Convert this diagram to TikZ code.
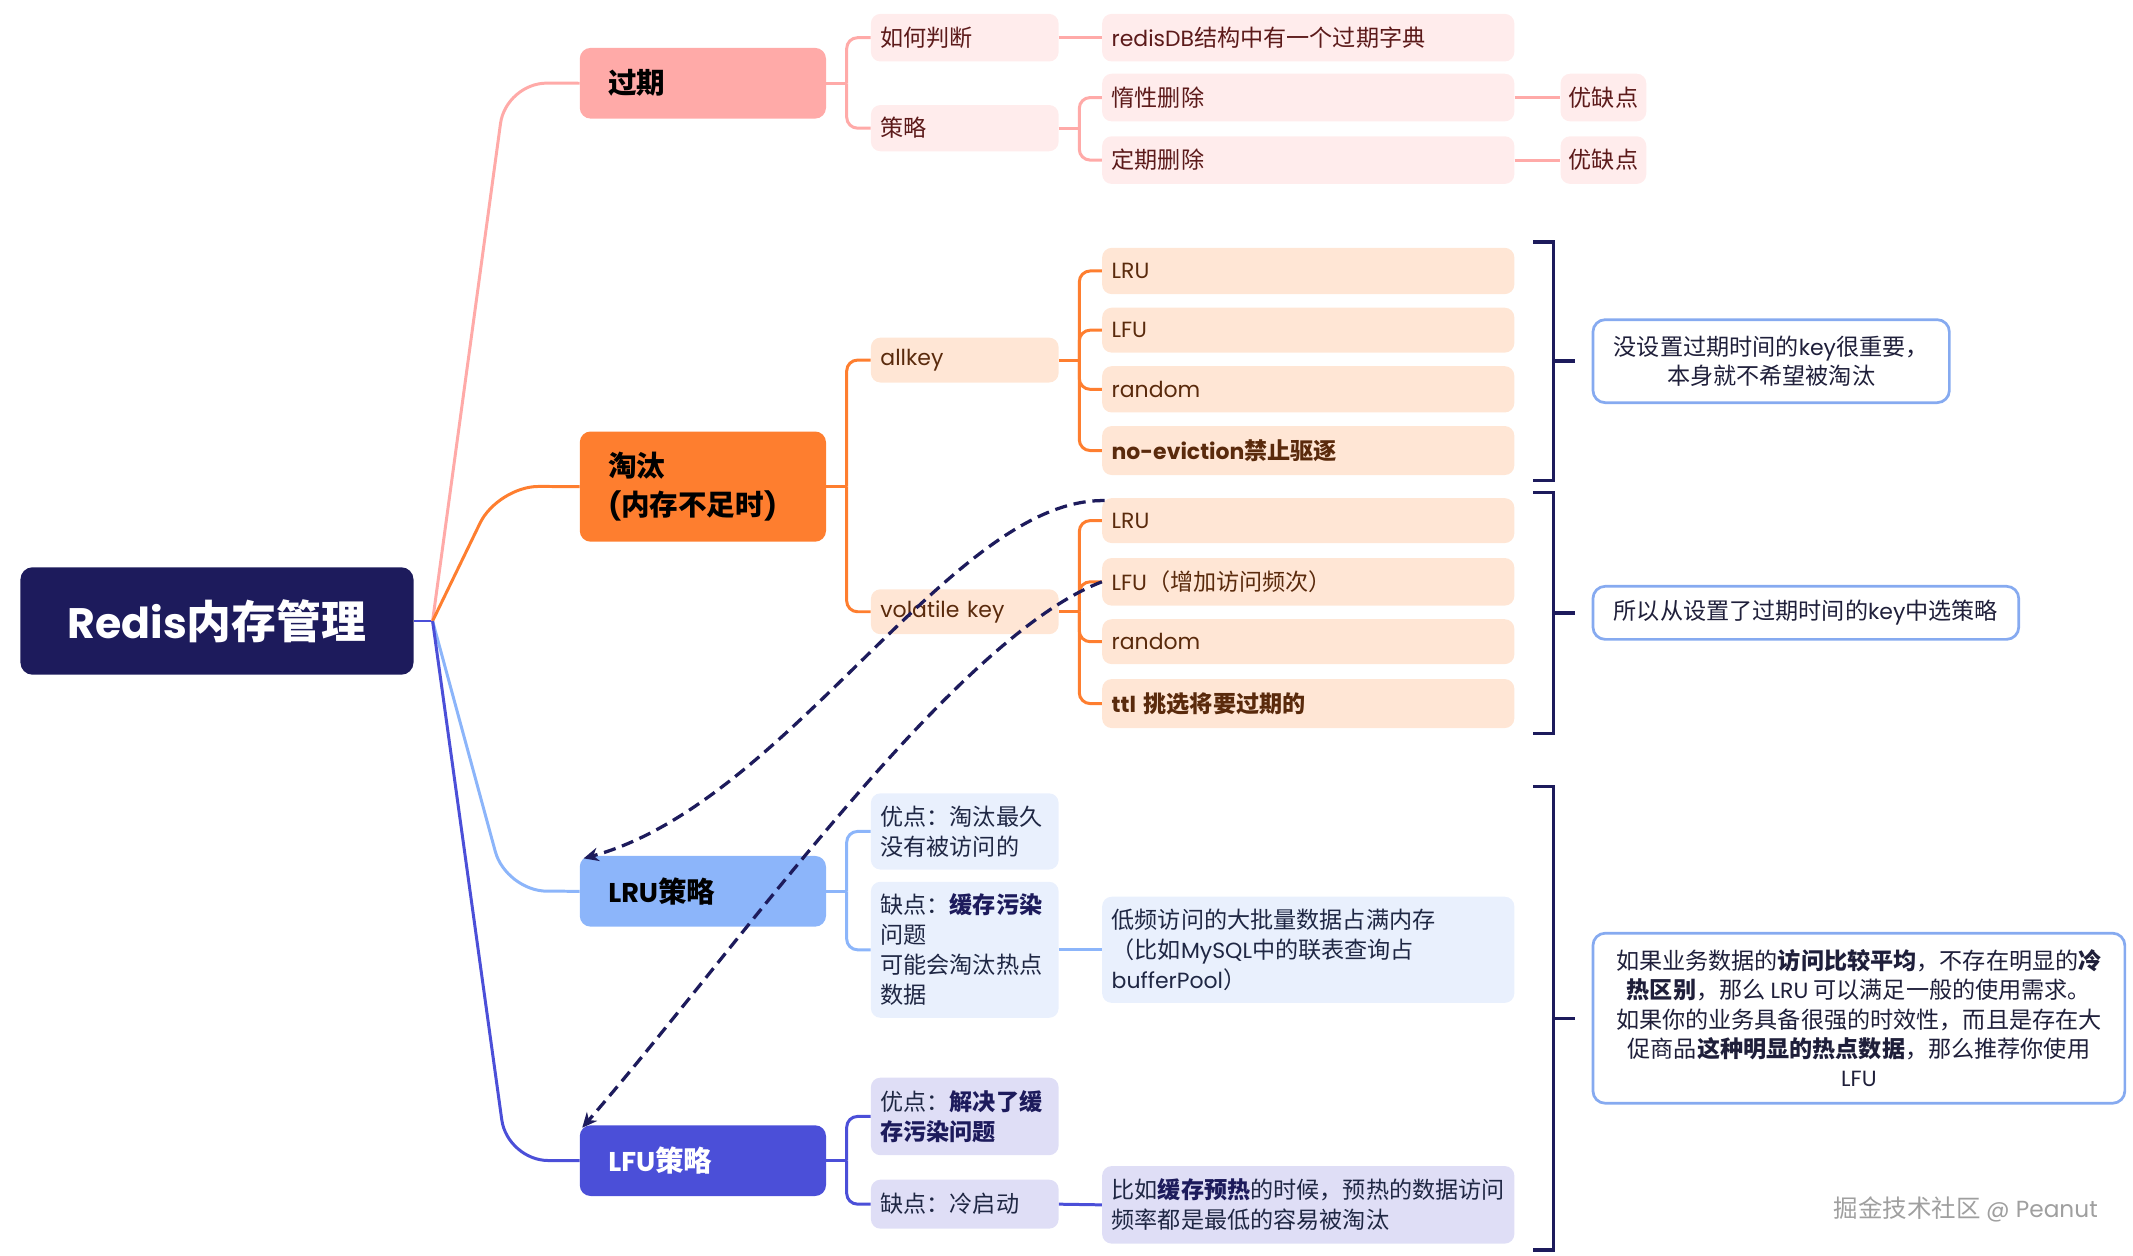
\documentclass[tikz,border=0pt]{standalone}
\usepackage{fontspec}
\setmainfont{Noto Sans CJK SC}
\newfontfamily\pop{Poppins}[Scale=0.95]
\usetikzlibrary{arrows.meta,calc}
\definecolor{navy}{HTML}{1D1B5C}
\definecolor{pinkM}{HTML}{FFAAA8}
\definecolor{pinkL}{HTML}{FFECEC}
\definecolor{pinkT}{HTML}{5C1A1A}
\definecolor{oraM}{HTML}{FE7E2F}
\definecolor{oraL}{HTML}{FFE6D5}
\definecolor{oraT}{HTML}{5A2A0C}
\definecolor{lbM}{HTML}{8CB5FA}
\definecolor{lbL}{HTML}{E9F0FD}
\definecolor{dbM}{HTML}{4B4FD8}
\definecolor{dbL}{HTML}{DFDEF6}
\definecolor{bluT}{HTML}{1F2744}
\definecolor{noteB}{HTML}{86AAF0}
\definecolor{noteT}{HTML}{1F1F3A}
\newcommand\lat[1]{{\pop #1}}
\begin{document}
\begin{tikzpicture}[x=1pt,y=-1pt,
  base/.style={rounded corners=7pt, inner xsep=7pt, inner ysep=2pt, anchor=north west,
    font=\fontsize{17}{22}\selectfont, align=left},
  lvtwo/.style={base, text width=124pt},
  lvthree/.style={base, text width=289pt},
  mainn/.style={rounded corners=8pt, anchor=north west, text width=139pt, inner xsep=21pt,
    align=left, font=\bfseries\fontsize{21}{28}\selectfont},
  note/.style={draw=noteB, line width=2pt, fill=white, rounded corners=9pt, align=center,
    font=\fontsize{17}{21.5}\selectfont, text=noteT, inner sep=2pt},
  conn/.style={line width=2.2pt, draw=#1},
  br/.style={line width=2.2pt, draw=#1, rounded corners=8pt},
  bracket/.style={line width=2.5pt, draw=navy},
  dasharrow/.style={line width=2.4pt, draw=navy, dash pattern=on 9pt off 5pt,
    -{Stealth[length=11pt,width=10pt]}}
]
\useasboundingbox (0,0) rectangle (1568,923.3);

% root
\node[fill=navy, rounded corners=9pt, minimum width=289pt, minimum height=79pt, text=white,
  font=\bfseries\fontsize{33}{36}\selectfont] (root) at (159.5,456.5) {\lat{Redis}内存管理};

% main nodes
\node[mainn, fill=pinkM, minimum height=52pt] (gq) at (426,35) {过期};
\node[mainn, fill=oraM, minimum height=81pt] (tt) at (426,317) {淘汰\\\lat{(}内存不足时\lat{)}};
\node[mainn, fill=lbM, minimum height=52pt] (lru) at (426,629) {\lat{LRU}策略};
\node[mainn, fill=dbM, minimum height=52pt, text=white] (lfu) at (426,827) {\lat{LFU}策略};

% level two
\node[lvtwo, fill=pinkL, text=pinkT, minimum height=35pt] (pd) at (640,10) {如何判断};
\node[lvtwo, fill=pinkL, text=pinkT, minimum height=34pt] (cl) at (640,77) {策略};
\node[lvtwo, fill=oraL, text=oraT, minimum height=33pt] (ak) at (640,248) {\lat{allkey}};
\node[lvtwo, fill=oraL, text=oraT, minimum height=33pt] (vk) at (640,433) {\lat{volatile key}};
\node[lvtwo, fill=lbL, text=bluT, minimum height=56pt] (ru1) at (640,583) {优点：淘汰最久\\没有被访问的};
\node[lvtwo, fill=lbL, text=bluT, minimum height=100pt] (ru2) at (640,648)
  {缺点：\textcolor{navy}{\bfseries 缓存污染}\\问题\\可能会淘汰热点\\数据};
\node[lvtwo, fill=dbL, text=bluT, minimum height=57pt] (fu1) at (640,792)
  {优点：\textcolor{navy}{\bfseries 解决了缓}\\\textcolor{navy}{\bfseries 存污染问题}};
\node[lvtwo, fill=dbL, text=bluT, minimum height=36pt] (fu2) at (640,867) {缺点：冷启动};

% level three
\node[lvthree, fill=pinkL, text=pinkT, minimum height=35pt] (rd) at (810,10) {\lat{redisDB}结构中有一个过期字典};
\node[lvthree, fill=pinkL, text=pinkT, minimum height=35pt] (dx) at (810,54) {惰性删除};
\node[lvthree, fill=pinkL, text=pinkT, minimum height=35pt] (dq) at (810,100) {定期删除};
\node[base, fill=pinkL, text=pinkT, minimum height=35pt, minimum width=63pt, inner xsep=5pt, align=center] (yq1) at (1147,54) {优缺点};
\node[base, fill=pinkL, text=pinkT, minimum height=35pt, minimum width=63pt, inner xsep=5pt, align=center] (yq2) at (1147,100) {优缺点};

\node[lvthree, fill=oraL, text=oraT, minimum height=34pt] (a1) at (810,182) {\lat{LRU}};
\node[lvthree, fill=oraL, text=oraT, minimum height=33pt] (a2) at (810,226) {\lat{LFU}};
\node[lvthree, fill=oraL, text=oraT, minimum height=34pt] (a3) at (810,269) {\lat{random}};
\node[lvthree, fill=oraL, text=oraT, minimum height=36pt, font=\bfseries\fontsize{17}{22}\selectfont] (a4) at (810,313) {\lat{no-eviction}禁止驱逐};
\node[lvthree, fill=oraL, text=oraT, minimum height=33pt] (v1) at (810,366) {\lat{LRU}};
\node[lvthree, fill=oraL, text=oraT, minimum height=35pt] (v2) at (810,410) {\lat{LFU}（增加访问频次）};
\node[lvthree, fill=oraL, text=oraT, minimum height=33pt] (v3) at (810,455) {\lat{random}};
\node[lvthree, fill=oraL, text=oraT, minimum height=36pt, font=\bfseries\fontsize{17}{22}\selectfont] (v4) at (810,499) {\lat{ttl} 挑选将要过期的};

\node[lvthree, fill=lbL, text=bluT, minimum height=78pt] (lp) at (810,659)
  {低频访问的大批量数据占满内存\\（比如\lat{MySQL}中的联表查询占\\\lat{bufferPool}）};
\node[lvthree, fill=dbL, text=bluT, minimum height=57pt] (yr) at (810,857)
  {比如\textcolor{navy}{\bfseries 缓存预热}的时候，预热的数据访问\\频率都是最低的容易被淘汰};

% notes
\node[note, minimum width=262pt, minimum height=61pt] (n1) at (1302,265.5)
  {没设置过期时间的\lat{key}很重要，\\本身就不希望被淘汰};
\node[note, minimum width=313pt, minimum height=39pt] (n2) at (1327.5,450.5)
  {所以从设置了过期时间的\lat{key}中选策略};
\node[note, minimum width=391pt, minimum height=125pt] (n3) at (1366.5,748.5)
  {如果业务数据的\textbf{访问比较平均}，不存在明显的\textbf{冷}\\
   \textbf{热区别}，那么 \lat{LRU} 可以满足一般的使用需求。\\
   如果你的业务具备很强的时效性，而且是存在大\\
   促商品\textbf{这种明显的热点数据}，那么推荐你使用\\
   \lat{LFU}};

% watermark
\node[text=gray!75, font=\fontsize{18}{20}\selectfont] (wm) at (1445,889) {掘金技术社区 \lat{@ Peanut}};

% root connectors
\draw[conn=dbM] (root.east) -- (318,456.5);
\draw[conn=pinkM, rounded corners=30pt] (318,456.5) -- (372,61) -- (gq.west);
\draw[conn=oraM, rounded corners=30pt] (318,456.5) -- (366,357.5) -- (tt.west);
\draw[conn=lbM, rounded corners=30pt] (318,456.5) -- (372,655) -- (lru.west);
\draw[conn=dbM, rounded corners=30pt] (318,456.5) -- (373,853) -- (lfu.west);

% pink branch
\draw[conn=pinkM] (gq.east) -- ++(15,0) coordinate (gqj);
\draw[br=pinkM] (gqj) |- (pd.west);
\draw[br=pinkM] (gqj) |- (cl.west);
\draw[conn=pinkM] (pd.east) -- (rd.west);
\draw[conn=pinkM] (cl.east) -- ++(15,0) coordinate (clj);
\draw[br=pinkM] (clj) |- (dx.west);
\draw[br=pinkM] (clj) |- (dq.west);
\draw[conn=pinkM] (dx.east) -- (yq1.west);
\draw[conn=pinkM] (dq.east) -- (yq2.west);

% orange branch
\draw[conn=oraM] (tt.east) -- ++(15,0) coordinate (ttj);
\draw[br=oraM] (ttj) |- (ak.west);
\draw[br=oraM] (ttj) |- (vk.west);
\draw[conn=oraM] (ak.east) -- ++(15,0) coordinate (akj);
\foreach \n in {a1,a2,a3,a4} \draw[br=oraM] (akj) |- (\n.west);
\draw[conn=oraM] (vk.east) -- ++(15,0) coordinate (vkj);
\foreach \n in {v1,v2,v3,v4} \draw[br=oraM] (vkj) |- (\n.west);

% LRU branch
\draw[conn=lbM] (lru.east) -- ++(15,0) coordinate (lruj);
\draw[br=lbM] (lruj) |- (ru1.west);
\draw[br=lbM] (lruj) |- (ru2.west);
\draw[conn=lbM] (ru2.east) -- (lp.west);

% LFU branch
\draw[conn=dbM] (lfu.east) -- ++(15,0) coordinate (lfuj);
\draw[br=dbM] (lfuj) |- (fu1.west);
\draw[br=dbM] (lfuj) |- (fu2.west);
\draw[conn=dbM] (fu2.east) -- (yr.west);

% brackets
\draw[bracket] (1127,178) -- (1142,178) -- (1142,353) -- (1127,353);
\draw[bracket] (1142,265.5) -- (1158,265.5);
\draw[bracket] (1127,362) -- (1142,362) -- (1142,539) -- (1127,539);
\draw[bracket] (1142,450.5) -- (1158,450.5);
\draw[bracket] (1127,578) -- (1142,578) -- (1142,919) -- (1127,919);
\draw[bracket] (1142,748.5) -- (1158,748.5);

% dashed arrows
\draw[dasharrow] ($(v1.north west)+(2,2)$) .. controls (700,366) and (580,590) .. ($(lru.north west)+(3,2)$);
\draw[dasharrow] (v2.west) .. controls (700,470) and (540,700) .. ($(lfu.north west)+(2,2)$);
\end{tikzpicture}
\end{document}
